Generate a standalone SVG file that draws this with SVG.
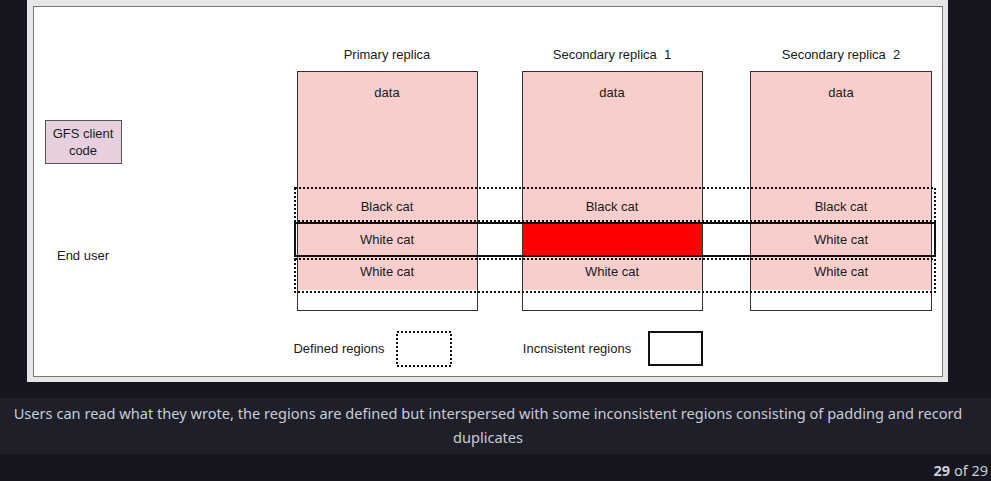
<svg xmlns="http://www.w3.org/2000/svg" width="991" height="481" viewBox="0 0 991 481">
<style>
.t{font-family:"Liberation Sans",Arial,sans-serif;font-size:13px;fill:#1a1a1a;text-anchor:middle}
.col{fill:#f8cecc;stroke:none}
.colb{fill:none;stroke:#333;stroke-width:1}
.dot{fill:none;stroke:#111;stroke-width:2;stroke-dasharray:2 2}
.sol{fill:none;stroke:#111;stroke-width:2}
.cap{font-family:"Noto Sans","Open Sans",sans-serif;font-size:14.6px;fill:#c8ccd6;text-anchor:middle}
</style>
<rect x="0" y="0" width="991" height="481" fill="#16161f"/>
<rect x="0" y="398" width="991" height="56" fill="#1e1f29"/>
<rect x="27" y="0" width="921" height="382" fill="#e6e6e6"/>
<rect x="33.5" y="6.5" width="909" height="370" fill="#ffffff" stroke="#777" stroke-width="1"/>

<g id="primary">
<text class="t" x="387" y="59">Primary replica</text>
<rect class="col" x="297" y="71" width="180" height="219"/>
<rect x="297" y="290" width="180" height="20" fill="#fff"/>
<rect class="colb" x="297.5" y="71.5" width="180" height="239"/>
<text class="t" x="387" y="97">data</text>
<text class="t" x="387" y="211">Black cat</text>
<text class="t" x="387" y="244">White cat</text>
<text class="t" x="387" y="276">White cat</text>
</g>

<g id="secondary1">
<text class="t" x="612" y="59" xml:space="preserve">Secondary replica  1</text>
<rect class="col" x="522" y="71" width="180" height="219"/>
<rect x="522" y="290" width="180" height="20" fill="#fff"/>
<rect x="522" y="223" width="180" height="33" fill="#ff0000"/>
<rect class="colb" x="522.5" y="71.5" width="180" height="239"/>
<text class="t" x="612" y="97">data</text>
<text class="t" x="612" y="211">Black cat</text>
<text class="t" x="612" y="276">White cat</text>
</g>

<g id="secondary2">
<text class="t" x="841" y="59" xml:space="preserve">Secondary replica  2</text>
<rect class="col" x="750" y="71" width="181" height="219"/>
<rect x="750" y="290" width="181" height="20" fill="#fff"/>
<rect class="colb" x="750.5" y="71.5" width="181" height="239"/>
<text class="t" x="841" y="97">data</text>
<text class="t" x="841" y="211">Black cat</text>
<text class="t" x="841" y="244">White cat</text>
<text class="t" x="841" y="276">White cat</text>
</g>

<g id="regions">
<rect class="dot" x="295" y="188" width="640" height="33"/>
<rect class="sol" x="295" y="223" width="640" height="33"/>
<rect class="dot" x="295" y="259" width="640" height="33"/>
</g>

<g id="gfs-client">
<rect x="45.5" y="120.5" width="76" height="43" fill="#e6d0de" stroke="#555" stroke-width="1"/>
<text class="t" x="83" y="138">GFS client</text>
<text class="t" x="83" y="155">code</text>
</g>

<g id="end-user">
<text class="t" x="83" y="260">End user</text>
</g>

<g id="legend">
<text class="t" x="339" y="353">Defined regions</text>
<rect class="dot" x="397" y="332" width="54" height="34"/>
<text class="t" x="577" y="353">Incnsistent regions</text>
<rect class="sol" x="649" y="332" width="53" height="33"/>
</g>

<g id="connectors"></g>

<text class="cap" x="488" y="419">Users can read what they wrote, the regions are defined but interspersed with some inconsistent regions consisting of padding and record</text>
<text class="cap" x="488" y="443">duplicates</text>
<text x="988" y="476" font-family="'Noto Sans','Open Sans',sans-serif" font-size="14.5" fill="#c8ccd6" text-anchor="end"><tspan font-weight="bold">29</tspan> of 29</text>
</svg>
